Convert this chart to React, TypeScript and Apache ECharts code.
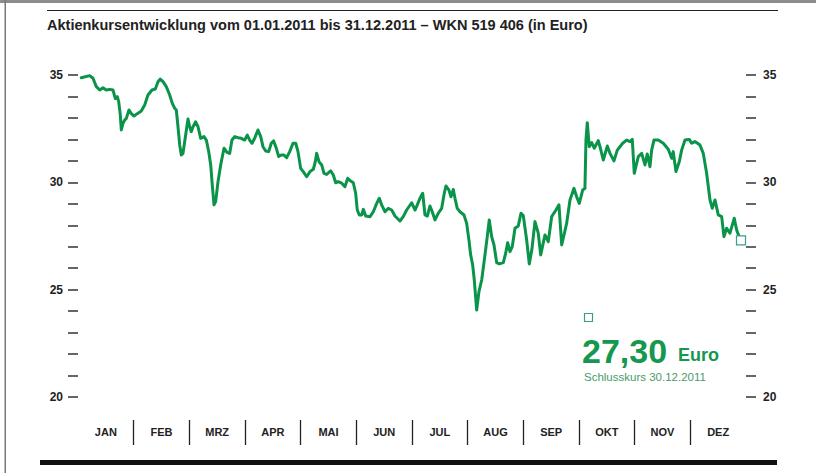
import React, { useEffect, useRef } from 'react';
import * as echarts from 'echarts';

const TITLE = 'Aktienkursentwicklung vom 01.01.2011 bis 31.12.2011 – WKN 519 406 (in Euro)';
const MONTHS = ['JAN', 'FEB', 'MRZ', 'APR', 'MAI', 'JUN', 'JUL', 'AUG', 'SEP', 'OKT', 'NOV', 'DEZ'];
const CLOSE_LABEL = 'Schlusskurs 30.12.2011';
const CLOSE_UNIT = 'Euro';
const Y_MIN = 20;
const Y_MAX = 35;
const Y_STEP = 5;

// position in months since 01.01.2011 (0 = Jan 1, 12 = Dec 31)
const MONTH_POS = [
  0.059, 0.210, 0.269, 0.329, 0.390, 0.449, 0.508, 0.569, 0.629, 0.670, 0.706, 0.731, 0.760, 0.778, 0.808, 0.839, 0.868, 0.916, 0.957,
  1.006, 1.065, 1.137, 1.198, 1.257, 1.329, 1.389, 1.437, 1.478, 1.527, 1.586, 1.647, 1.694, 1.737, 1.766, 1.796, 1.827, 1.856, 1.886, 1.917, 1.976,
  2.006, 2.035, 2.066, 2.114, 2.156, 2.204, 2.263, 2.305, 2.348, 2.384, 2.412, 2.443, 2.473, 2.515, 2.563, 2.623, 2.676, 2.725, 2.766, 2.815, 2.874, 2.933, 2.994,
  3.041, 3.084, 3.126, 3.174, 3.233, 3.282, 3.323, 3.372, 3.426, 3.472, 3.515, 3.562, 3.605, 3.652, 3.700, 3.749, 3.803, 3.862, 3.911, 3.952,
  4.000, 4.047, 4.108, 4.167, 4.227, 4.257, 4.288, 4.329, 4.378, 4.419, 4.467, 4.539, 4.586, 4.629, 4.676, 4.737, 4.796, 4.845, 4.886, 4.945, 4.988,
  5.017, 5.053, 5.096, 5.125, 5.168, 5.245, 5.305, 5.366, 5.412, 5.455, 5.515, 5.574, 5.635, 5.694, 5.784, 5.843, 5.904, 5.994,
  6.054, 6.095, 6.143, 6.192, 6.233, 6.275, 6.323, 6.364, 6.413, 6.472, 6.533, 6.580, 6.610, 6.664, 6.700, 6.742, 6.772, 6.813, 6.862, 6.934, 6.982,
  7.023, 7.054, 7.090, 7.119, 7.162, 7.203, 7.252, 7.311, 7.352, 7.388, 7.431, 7.473, 7.521, 7.568, 7.640, 7.683, 7.719, 7.760, 7.801, 7.850, 7.909, 7.958, 7.999,
  8.060, 8.107, 8.155, 8.209, 8.268, 8.312, 8.389, 8.448, 8.509, 8.586, 8.640, 8.689, 8.779, 8.838, 8.910, 8.958,
  9.005, 9.066, 9.107, 9.125, 9.149, 9.184, 9.228, 9.274, 9.346, 9.377, 9.436, 9.508, 9.556, 9.628, 9.688, 9.785, 9.856, 9.916, 9.957, 9.993,
  10.065, 10.126, 10.185, 10.226, 10.275, 10.305, 10.347, 10.424, 10.514, 10.604, 10.665, 10.693, 10.742, 10.801, 10.844, 10.904, 10.981,
  11.024, 11.083, 11.173, 11.232, 11.293, 11.353, 11.394, 11.443, 11.502, 11.563, 11.604, 11.653, 11.712, 11.789, 11.832, 11.865, 11.910,
];

const PRICES = [
  34.87, 34.97, 34.85, 34.46, 34.30, 34.40, 34.30, 34.33, 34.30, 33.90, 33.99, 33.76, 33.14, 32.44, 32.75, 32.90, 32.98, 33.37, 33.20,
  33.09, 33.20, 33.32, 33.60, 34.07, 34.30, 34.35, 34.69, 34.81, 34.69, 34.46, 34.07, 33.68, 33.45, 33.37, 32.60, 31.74, 31.27, 31.35, 31.90, 32.95,
  32.59, 32.36, 32.59, 32.82, 32.59, 32.05, 32.13, 31.97, 31.43, 30.81, 29.88, 28.95, 29.10, 30.03, 30.81, 31.59, 31.40, 31.35, 31.97, 32.13, 32.08, 32.05, 31.97,
  32.20, 31.97, 31.82, 32.05, 32.44, 32.13, 31.66, 31.46, 31.43, 31.82, 31.93, 31.59, 31.20, 31.27, 31.27, 31.15, 31.43, 31.82, 31.82, 31.43,
  30.65, 30.50, 30.26, 30.50, 30.61, 30.89, 31.35, 30.96, 30.81, 30.42, 30.37, 30.54, 30.34, 29.98, 30.03, 29.96, 29.80, 30.19, 30.08, 29.98, 29.49,
  28.71, 28.48, 28.48, 28.74, 28.43, 28.40, 28.63, 29.02, 29.26, 28.95, 28.63, 28.79, 28.71, 28.43, 28.20, 28.40, 28.71, 29.05,
  28.71, 28.95, 29.26, 29.49, 28.48, 28.43, 28.90, 28.63, 28.25, 28.56, 28.79, 29.49, 29.83, 29.64, 29.33, 29.67, 29.26, 28.79, 28.63, 28.48, 28.09,
  27.31, 26.62, 26.15, 25.45, 24.05, 24.91, 25.45, 26.62, 27.47, 28.25, 27.47, 27.08, 26.26, 26.20, 26.26, 26.70, 27.19, 26.77, 27.00, 27.86, 27.97, 28.56, 28.45,
  27.31, 26.20, 26.90, 28.17, 27.63, 26.62, 27.55, 27.24, 28.40, 28.71, 28.95, 27.08, 28.10, 29.18, 29.72, 29.33,
  29.02, 29.64, 29.72, 31.97, 32.78, 31.66, 31.85, 31.59, 31.94, 31.66, 31.04, 31.69, 31.35, 31.00, 31.50, 31.82, 31.97, 31.90, 32.00, 30.42,
  31.20, 31.35, 30.81, 31.32, 30.73, 31.50, 31.97, 31.97, 31.82, 31.54, 31.12, 31.43, 30.50, 30.96, 31.50, 31.97, 32.00,
  31.82, 31.90, 31.74, 31.35, 30.42, 29.18, 28.79, 29.18, 28.48, 28.40, 27.47, 27.86, 27.63, 28.33, 27.78, 27.55, 27.30,
];

const GREEN = '#0a944a';
const TEXT_GREEN = '#16974f';
const SUB_GREEN = '#4a9a6a';
const SQUARE = '#3a9c8c';
const INK = '#222';

export default function App() {
  const ref = useRef<HTMLDivElement>(null);

  useEffect(() => {
    if (!ref.current) return;
    const chart = echarts.init(ref.current, null, { renderer: 'svg' });
    const data = MONTH_POS.map((m, i) => [m, PRICES[i]]);
    const last = data[data.length - 1];
    const closeText = PRICES[PRICES.length - 1].toFixed(2).replace('.', ',');

    let titleScale = 1;
    const ctx = document.createElement('canvas').getContext('2d');
    if (ctx) {
      ctx.font = 'bold 15px "Liberation Sans"';
      const w = ctx.measureText(TITLE).width;
      if (w > 0) titleScale = 541 / w;
    }

    const tickStyle = { color: '#333', width: 1.5 };
    const yBase = {
      type: 'value' as const,
      min: Y_MIN,
      max: Y_MAX,
      interval: Y_STEP,
      gridIndex: 0,
      splitLine: { show: false },
      axisLine: { show: false },
      axisTick: { show: true, length: 10, lineStyle: tickStyle },
      minorTick: { show: true, splitNumber: 5, length: 10, lineStyle: tickStyle },
    };
    const labelStyle = {
      color: INK,
      fontSize: 12,
      fontWeight: 'bold' as const,
      fontFamily: '"Liberation Sans", Arial, sans-serif',
    };

    chart.setOption({
      animation: false,
      backgroundColor: '#fff',
      grid: [
        { left: 78, right: 70, top: 75, bottom: 76 },
        { left: 78, right: 70, top: 420, height: 25 },
      ],
      xAxis: [
        { type: 'value', gridIndex: 0, min: 0, max: 12, show: false },
        {
          type: 'category',
          gridIndex: 1,
          data: MONTHS,
          boundaryGap: true,
          position: 'bottom',
          axisLine: { show: false },
          axisTick: { show: false },
          splitLine: {
            show: true,
            showMinLine: false,
            showMaxLine: false,
            lineStyle: { color: INK, width: 1.3 },
          },
          axisLabel: {
            ...labelStyle,
            fontSize: 11,
            margin: -13,
            verticalAlign: 'middle',
          },
        },
      ],
      yAxis: [
        { ...yBase, position: 'left', axisLabel: { ...labelStyle, margin: 15 } },
        { ...yBase, position: 'right', axisLabel: { ...labelStyle, margin: 17 } },
        { type: 'value', gridIndex: 1, show: false },
      ],
      series: [
        {
          type: 'line',
          xAxisIndex: 0,
          yAxisIndex: 0,
          data,
          symbol: 'none',
          lineStyle: { color: GREEN, width: 3, join: 'round', cap: 'round' },
          markPoint: {
            silent: true,
            data: [
              {
                coord: last,
                symbol: 'rect',
                symbolSize: 9,
                itemStyle: { color: '#fff', borderColor: SQUARE, borderWidth: 1.2 },
                label: { show: false },
              },
            ],
          },
        },
      ],
      graphic: [
        { type: 'rect', shape: { x: 0, y: 0, width: 816, height: 3 }, style: { fill: '#8c8c8c', stroke: 'none' } },
        { type: 'rect', shape: { x: 4.5, y: 0, width: 1.5, height: 473 }, style: { fill: '#7a7a7a', stroke: 'none' } },
        { type: 'rect', shape: { x: 47, y: 10, width: 731, height: 1 }, style: { fill: INK, stroke: 'none' } },
        {
          type: 'text',
          x: 47,
          y: 25,
          scaleX: titleScale,
          style: {
            text: TITLE,
            fill: INK,
            font: 'bold 15px "Liberation Sans", Arial, sans-serif',
            textAlign: 'left',
            textVerticalAlign: 'middle',
          },
        },
        { type: 'rect', shape: { x: 40, y: 460, width: 737, height: 5 }, style: { fill: '#111', stroke: 'none' } },
        {
          type: 'rect',
          shape: { x: 584.5, y: 313.5, width: 8, height: 8 },
          style: { fill: '#fff', stroke: SQUARE, lineWidth: 1.2 },
        },
        {
          type: 'text',
          x: 582,
          y: 351,
          style: {
            text: closeText,
            fill: TEXT_GREEN,
            font: 'bold 34px "Liberation Sans", Arial, sans-serif',
            textAlign: 'left',
            textVerticalAlign: 'middle',
          },
        },
        {
          type: 'text',
          x: 678,
          y: 355,
          style: {
            text: CLOSE_UNIT,
            fill: TEXT_GREEN,
            font: 'bold 18px "Liberation Sans", Arial, sans-serif',
            textAlign: 'left',
            textVerticalAlign: 'middle',
          },
        },
        {
          type: 'text',
          x: 584,
          y: 377,
          style: {
            text: CLOSE_LABEL,
            fill: SUB_GREEN,
            font: '11.5px "Liberation Sans", Arial, sans-serif',
            textAlign: 'left',
            textVerticalAlign: 'middle',
          },
        },
      ],
    });

    return () => chart.dispose();
  }, []);

  return (
    <div
      ref={ref}
      style={{ position: 'fixed', left: 0, top: 0, width: 816, height: 473, background: '#fff' }}
    />
  );
}
